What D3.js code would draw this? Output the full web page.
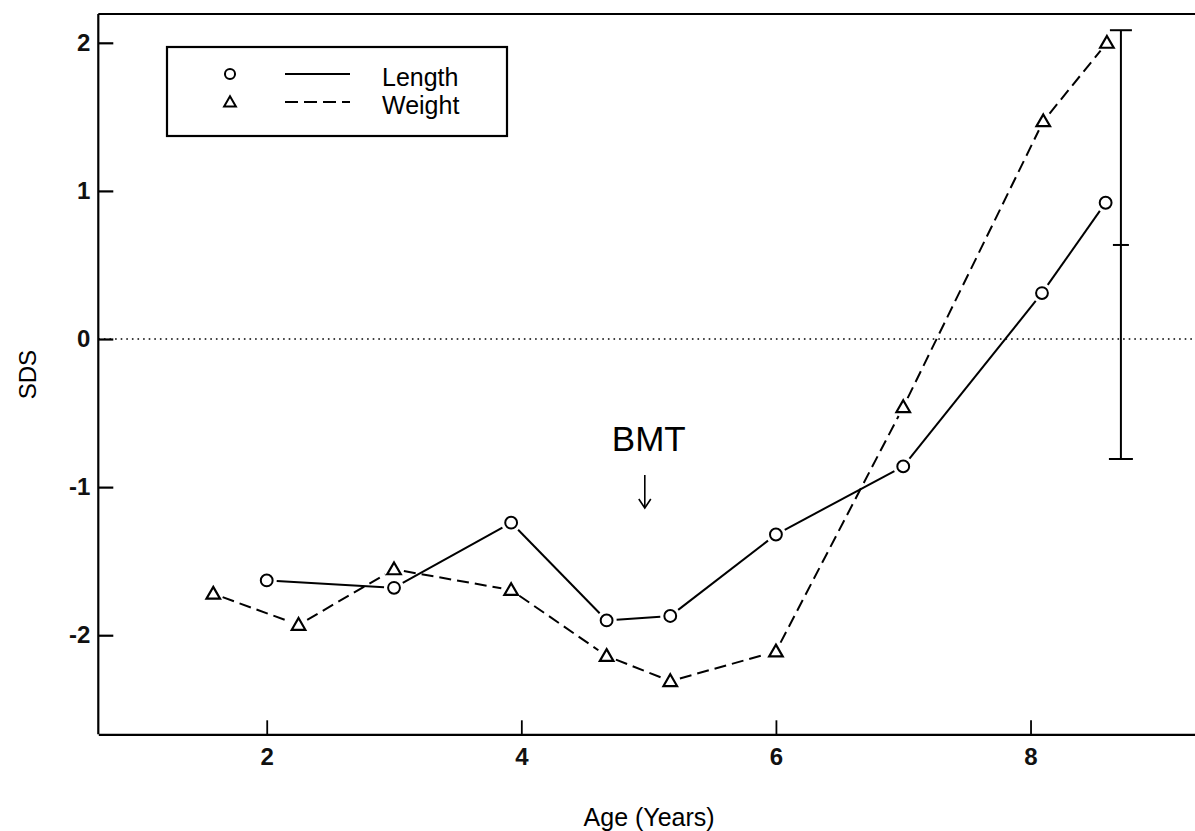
<!DOCTYPE html>
<html>
<head>
<meta charset="utf-8">
<script src="https://cdn.jsdelivr.net/npm/d3@7"></script>
<style>
  html, body { margin: 0; padding: 0; background: #fff; }
  svg { display: block; font-family: "Liberation Sans", Arial, Helvetica, sans-serif; }
</style>
</head>
<body>
<svg id="chart" width="1195" height="831"></svg>
<script>
// ---- data ----
const lengthAge = [2.0, 3.0, 3.92, 4.67, 5.17, 6.0, 7.0, 8.09, 8.59];
const lengthSDS = [-1.63, -1.68, -1.24, -1.90, -1.87, -1.32, -0.86, 0.31, 0.92];
const weightAge = [1.58, 2.25, 3.0, 3.92, 4.67, 5.17, 6.0, 7.0, 8.1, 8.6];
const weightSDS = [-1.72, -1.93, -1.555, -1.695, -2.14, -2.31, -2.11, -0.46, 1.47, 2.0];
const errAge = [8.71];
const errLow = [-0.81];
const errMid = [0.635];
const errHigh = [2.085];
const xTicks = [2, 4, 6, 8];
const yTicks = [-2, -1, 0, 1, 2];
const seriesNames = ["Length", "Weight"];
const annotationAge = [4.97];
const annotationText = ["BMT"];
const xTitle = "Age (Years)";
const yTitle = "SDS";

// ---- layout ----
const svg = d3.select("#chart");
const mLeft = 98.3, mRight = 1195, mTop = 14, mBottom = 734.3;

const x = d3.scaleLinear().domain([0.677, 9.292]).range([mLeft, mRight]);
const y = d3.scaleLinear().domain([-2.669, 2.1945]).range([mBottom, mTop]);

const font = 24;

// frame (left, top lines)
svg.append("line").attr("x1", mLeft).attr("x2", mLeft).attr("y1", mTop).attr("y2", mBottom)
  .attr("stroke", "#000").attr("stroke-width", 2.2);
svg.append("line").attr("x1", mLeft).attr("x2", mRight).attr("y1", mTop).attr("y2", mTop)
  .attr("stroke", "#000").attr("stroke-width", 2.2);

// axes
const fmt = d => String(d);
const xAxis = d3.axisBottom(x).tickValues(xTicks).tickFormat(fmt)
  .tickSizeInner(-14).tickSizeOuter(0).tickPadding(14);
const gx = svg.append("g").attr("transform", `translate(0,${mBottom})`).call(xAxis);
gx.attr("font-size", null).attr("font-family", null);
gx.select(".domain").attr("stroke-width", 2.2);
gx.selectAll(".tick line").attr("stroke-width", 1.8);
gx.selectAll("text").style("font-size", font + "px").style("font-weight", "bold").attr("fill", "#111");

const yAxis = d3.axisLeft(y).tickValues(yTicks).tickFormat(fmt)
  .tickSizeInner(-15).tickSizeOuter(0).tickPadding(8);
const gy = svg.append("g").attr("transform", `translate(${mLeft},0)`).call(yAxis);
gy.attr("font-size", null).attr("font-family", null);
gy.select(".domain").remove();
gy.selectAll(".tick line").attr("stroke-width", 2.2);
gy.selectAll("text").style("font-size", font + "px").style("font-weight", "bold").attr("fill", "#111");

// axis titles
svg.append("text").attr("x", (x(4) + x(6)) / 2 + 0.5).attr("y", 826)
  .attr("text-anchor", "middle").style("font-size", "25px").text(xTitle);
svg.append("text").attr("transform", `translate(36,${y(-0.24)}) rotate(-90)`)
  .attr("text-anchor", "middle").style("font-size", font + "px").text(yTitle);

// zero reference line (dotted)
svg.append("line").attr("x1", mLeft).attr("x2", mRight).attr("y1", y(0)).attr("y2", y(0))
  .attr("stroke", "#000").attr("stroke-width", 1.6).attr("stroke-dasharray", "1.6,4");

// series lines as gapped segments
function drawSegments(ages, vals, dash) {
  const pts = ages.map((a, i) => [x(a), y(vals[i])]);
  const gap = 10;
  d3.pairs(pts).forEach(([p, q]) => {
    const dx = q[0] - p[0], dy = q[1] - p[1];
    const L = Math.hypot(dx, dy);
    const ux = dx / L, uy = dy / L;
    svg.append("line")
      .attr("x1", p[0] + ux * gap).attr("y1", p[1] + uy * gap)
      .attr("x2", q[0] - ux * gap).attr("y2", q[1] - uy * gap)
      .attr("stroke", "#000").attr("stroke-width", 2)
      .attr("stroke-dasharray", dash);
  });
}
drawSegments(lengthAge, lengthSDS, null);
drawSegments(weightAge, weightSDS, "12,6");

// markers
const circleSym = d3.symbol().type(d3.symbolCircle).size(110);
const triSym = d3.symbol().type(d3.symbolTriangle).size(80);
svg.append("g").selectAll("path").data(lengthAge).join("path")
  .attr("d", circleSym)
  .attr("transform", (d, i) => `translate(${x(d)},${y(lengthSDS[i])})`)
  .attr("fill", "#fff").attr("stroke", "#000").attr("stroke-width", 2);
svg.append("g").selectAll("path").data(weightAge).join("path")
  .attr("d", triSym)
  .attr("transform", (d, i) => `translate(${x(d)},${y(weightSDS[i]) + 1})`)
  .attr("fill", "#fff").attr("stroke", "#000").attr("stroke-width", 2.2);

// error bar
errAge.forEach((a, i) => {
  const cx = x(a);
  svg.append("line").attr("x1", cx).attr("x2", cx).attr("y1", y(errHigh[i])).attr("y2", y(errLow[i]))
    .attr("stroke", "#000").attr("stroke-width", 2);
  [[errHigh[i], 11], [errLow[i], 12], [errMid[i], 8]].forEach(([v, w]) => {
    svg.append("line").attr("x1", cx - w).attr("x2", cx + w).attr("y1", y(v)).attr("y2", y(v))
      .attr("stroke", "#000").attr("stroke-width", 2);
  });
});

// BMT annotation
annotationAge.forEach((a, i) => {
  const ax = x(a);
  svg.append("text").attr("x", ax + 4).attr("y", 451).attr("text-anchor", "middle")
    .style("font-size", "35px").text(annotationText[i]);
  svg.append("line").attr("x1", ax).attr("x2", ax).attr("y1", 475).attr("y2", 507)
    .attr("stroke", "#000").attr("stroke-width", 1.6);
  svg.append("path").attr("d", `M${ax - 6},${499} L${ax},${508} L${ax + 6},${499}`)
    .attr("fill", "none").attr("stroke", "#000").attr("stroke-width", 1.6);
});

// legend
const lg = svg.append("g");
lg.append("rect").attr("x", 167).attr("y", 47).attr("width", 340).attr("height", 89)
  .attr("fill", "#fff").attr("stroke", "#000").attr("stroke-width", 2.2);
const legendRows = [74, 102];
seriesNames.forEach((name, i) => {
  const ly = legendRows[i];
  lg.append("path").attr("d", i === 0 ? circleSym.size(80)() : triSym.size(60)())
    .attr("transform", `translate(230,${ly + (i === 0 ? 0 : 1)})`)
    .attr("fill", "#fff").attr("stroke", "#000").attr("stroke-width", 2);
  lg.append("line").attr("x1", 285).attr("x2", 350).attr("y1", ly).attr("y2", ly)
    .attr("stroke", "#000").attr("stroke-width", 1.8)
    .attr("stroke-dasharray", i === 0 ? null : "13,6");
  lg.append("text").attr("x", 382).attr("y", ly + 12).style("font-size", "25px").text(name);
});
</script>
</body>
</html>
